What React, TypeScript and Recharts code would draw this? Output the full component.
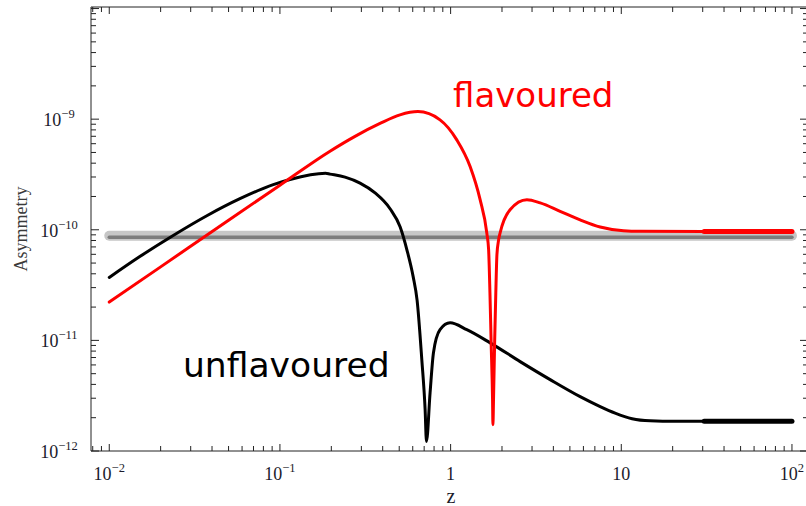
import React from 'react';
import { LineChart, Line, XAxis, YAxis, Customized } from 'recharts';

// Unflavoured asymmetry vs z
const unflavouredZ = [
  0.01, 0.0151, 0.0237, 0.0373, 0.0583, 0.0914, 0.1146, 0.185, 0.1966, 0.2407,
  0.2947, 0.3608, 0.4418, 0.5058, 0.5559, 0.6029, 0.6364, 0.678, 0.709, 0.722,
  0.758, 0.793, 0.867, 0.993, 1.244, 1.705, 2.555, 3.83, 5.74, 7.52,
  9.2, 11.57, 14.75, 20.7, 30.6, 100,
];
const unflavouredAsym = [
  3.71e-11, 5.73e-11, 8.89e-11, 1.34e-10, 1.91e-10, 2.56e-10, 2.85e-10, 3.24e-10, 3.185e-10, 2.992e-10,
  2.642e-10, 2.155e-10, 1.55e-10, 1.064e-10, 6.49e-11, 3.79e-11, 2.3e-11, 6.7e-12, 2.37e-12, 1.22e-12,
  3.35e-12, 7.7e-12, 1.25e-11, 1.44e-11, 1.25e-11, 9.5e-12, 6.43e-12, 4.42e-12, 3.1e-12, 2.52e-12,
  2.2e-12, 1.96e-12, 1.875e-12, 1.853e-12, 1.853e-12, 1.853e-12,
];

// Flavoured asymmetry vs z
const flavouredZ = [
  0.01, 0.02, 0.05, 0.1, 0.1965, 0.2754, 0.3857, 0.505, 0.644, 0.867,
  1.087, 1.301, 1.489, 1.63, 1.67, 1.7, 1.728, 1.761, 1.77, 1.784,
  1.811, 1.84, 1.868, 1.911, 1.951, 2.23, 2.8, 3.35, 4.38, 5.74,
  7.52, 10.3, 12.9, 30.6, 100,
];
const flavouredAsym = [
  2.22e-11, 4.62e-11, 1.22e-10, 2.53e-10, 5.13e-10, 6.99e-10, 9.14e-10, 1.093e-9, 1.17e-9, 9.86e-10,
  6.5e-10, 3.73e-10, 1.87e-10, 9.33e-11, 6.6e-11, 2.7e-11, 9.5e-12, 2.91e-12, 1.73e-12, 2.91e-12,
  9.5e-12, 2.7e-11, 5.95e-11, 8.1e-11, 9.4e-11, 1.52e-10, 1.87e-10, 1.75e-10, 1.47e-10, 1.23e-10,
  1.06e-10, 9.8e-11, 9.69e-11, 9.65e-11, 9.65e-11,
];

// Asymptotic (large z) segments, drawn heavier
const tailZ = [30.6, 100];
const unflavouredTail = [1.853e-12, 1.853e-12];
const flavouredTail = [9.65e-11, 9.65e-11];

// Observed value band
const bandZ = [0.01, 100];
const bandOuter = [8.83e-11, 8.83e-11];
const bandInner = [8.55e-11, 8.55e-11];

// Tick labels
const xMajorExp = [-2, -1, 0, 1, 2];
const xMajorBase = ['10', '10', '1', '10', '10'];
const xMajorSup = ['\u22122', '\u22121', '', '', '2'];
const yMajorExp = [-12, -11, -10, -9];
const yMajorSup = ['\u221212', '\u221211', '\u221210', '\u22129'];

const X_DOMAIN: [number, number] = [Math.pow(10, -2.107), Math.pow(10, 2.094)];
const Y_DOMAIN: [number, number] = [1e-12, Math.pow(10, -7.986)];

const rows = (zs: number[], vs: number[]) => zs.map((z, i) => ({ z, v: vs[i] }));

// 1..9 x 10^e ticks inside a domain
const logTicks = (lo: number, hi: number) => {
  const out: number[] = [];
  for (let e = Math.floor(Math.log10(lo)); e <= Math.ceil(Math.log10(hi)); e++) {
    for (let m = 1; m <= 9; m++) {
      const v = m * Math.pow(10, e);
      if (v >= lo * 0.9999 && v <= hi * 1.0001) out.push(v);
    }
  }
  return out;
};
const xTicks = logTicks(X_DOMAIN[0], X_DOMAIN[1]);
const yTicks = logTicks(Y_DOMAIN[0], Y_DOMAIN[1]);

const isMajor = (v: number) => {
  const e = Math.log10(v);
  return Math.abs(e - Math.round(e)) < 1e-6;
};

const FRAME = '#222';
const LABEL = '#1b1b2b';
const SERIF = '"Liberation Serif", "Times New Roman", serif';
const SANS = '"DejaVu Sans", Verdana, sans-serif';

const BottomTick = (p: any) => {
  const { x, y, payload } = p;
  const major = isMajor(payload.value);
  const idx = major ? xMajorExp.indexOf(Math.round(Math.log10(payload.value))) : -1;
  return (
    <g>
      <line x1={x} x2={x} y1={y} y2={y - (major ? 7 : 5)} stroke={FRAME} strokeWidth={1} />
      {idx >= 0 && (
        <text x={x} y={y + 29} textAnchor="middle" fontFamily={SERIF} fontSize={18} fill={LABEL}>
          {xMajorBase[idx]}
          {xMajorSup[idx] && (
            <tspan dy={-8} fontSize={12.5}>
              {xMajorSup[idx]}
            </tspan>
          )}
        </text>
      )}
    </g>
  );
};

const TopTick = (p: any) => {
  const { x, y, payload } = p;
  const major = isMajor(payload.value);
  return <line x1={x} x2={x} y1={y} y2={y + (major ? 7 : 5)} stroke={FRAME} strokeWidth={1} />;
};

const LeftTick = (p: any) => {
  const { x, y, payload } = p;
  const major = isMajor(payload.value);
  const idx = major ? yMajorExp.indexOf(Math.round(Math.log10(payload.value))) : -1;
  return (
    <g>
      <line x1={x} x2={x + (major ? 8 : 5)} y1={y} y2={y} stroke={FRAME} strokeWidth={1} />
      {idx >= 0 && (
        <text x={x - 32} y={y + 7} textAnchor="middle" fontFamily={SERIF} fontSize={18} fill={LABEL}>
          10
          <tspan dy={-8} fontSize={12.5}>
            {yMajorSup[idx]}
          </tspan>
        </text>
      )}
    </g>
  );
};

const RightTick = (p: any) => {
  const { x, y, payload } = p;
  const major = isMajor(payload.value);
  return <line x1={x} x2={x - (major ? 8 : 5)} y1={y} y2={y} stroke={FRAME} strokeWidth={1} />;
};

const Annotations = () => (
  <g>
    <text x={453} y={107} fontFamily={SANS} fontSize={34} fill="#ff0000">
      flavoured
    </text>
    <text x={183} y={377} fontFamily={SANS} fontSize={34.5} fill="#000000">
      unflavoured
    </text>
    <text x={451} y={503} textAnchor="middle" fontFamily={SERIF} fontSize={20} fill={LABEL}>
      z
    </text>
    <text
      x={27}
      y={229}
      transform="rotate(-90 27 229)"
      textAnchor="middle"
      fontFamily={SERIF}
      fontSize={18}
      fill="#3a3a3a"
    >
      Asymmetry
    </text>
  </g>
);

const axisLine = { stroke: FRAME, strokeWidth: 1 };

export default function App() {
  return (
    <div
      style={{
        position: 'absolute',
        left: 0,
        top: 0,
        width: 806,
        height: 506,
        overflow: 'hidden',
        background: '#fff',
      }}
    >
      <LineChart width={812} height={506} margin={{ top: 6, right: 3, bottom: 0, left: 0 }}>
        <XAxis
          dataKey="z"
          type="number"
          scale="log"
          domain={X_DOMAIN}
          allowDataOverflow
          ticks={xTicks}
          interval={0}
          height={55}
          tickSize={0}
          tickMargin={0}
          tickLine={false}
          axisLine={axisLine}
          tick={BottomTick}
        />
        <XAxis
          xAxisId="top"
          orientation="top"
          dataKey="z"
          type="number"
          scale="log"
          domain={X_DOMAIN}
          allowDataOverflow
          ticks={xTicks}
          interval={0}
          height={1}
          tickSize={0}
          tickMargin={0}
          tickLine={false}
          axisLine={axisLine}
          tick={TopTick}
        />
        <YAxis
          type="number"
          scale="log"
          domain={Y_DOMAIN}
          allowDataOverflow
          ticks={yTicks}
          interval={0}
          width={91}
          tickSize={0}
          tickMargin={0}
          tickLine={false}
          axisLine={axisLine}
          tick={LeftTick}
        />
        <YAxis
          yAxisId="right"
          orientation="right"
          type="number"
          scale="log"
          domain={Y_DOMAIN}
          allowDataOverflow
          ticks={yTicks}
          interval={0}
          width={1}
          tickSize={0}
          tickMargin={0}
          tickLine={false}
          axisLine={axisLine}
          tick={RightTick}
        />
        <Line
          data={rows(bandZ, bandOuter)}
          dataKey="v"
          type="linear"
          stroke="#c6c6c6"
          strokeWidth={10}
          strokeLinecap="round"
          dot={false}
          isAnimationActive={false}
        />
        <Line
          data={rows(bandZ, bandInner)}
          dataKey="v"
          type="linear"
          stroke="#7c7c7c"
          strokeWidth={3.5}
          strokeLinecap="round"
          dot={false}
          isAnimationActive={false}
        />
        <Line
          data={rows(unflavouredZ, unflavouredAsym)}
          dataKey="v"
          type="monotone"
          stroke="#000"
          strokeWidth={3}
          strokeLinecap="round"
          strokeLinejoin="round"
          dot={false}
          isAnimationActive={false}
        />
        <Line
          data={rows(tailZ, unflavouredTail)}
          dataKey="v"
          type="linear"
          stroke="#000"
          strokeWidth={5}
          strokeLinecap="round"
          dot={false}
          isAnimationActive={false}
        />
        <Line
          data={rows(flavouredZ, flavouredAsym)}
          dataKey="v"
          type="monotone"
          stroke="#ff0000"
          strokeWidth={3}
          strokeLinecap="round"
          strokeLinejoin="round"
          dot={false}
          isAnimationActive={false}
        />
        <Line
          data={rows(tailZ, flavouredTail)}
          dataKey="v"
          type="linear"
          stroke="#ff0000"
          strokeWidth={5}
          strokeLinecap="round"
          dot={false}
          isAnimationActive={false}
        />
        <Customized component={Annotations} />
      </LineChart>
    </div>
  );
}
